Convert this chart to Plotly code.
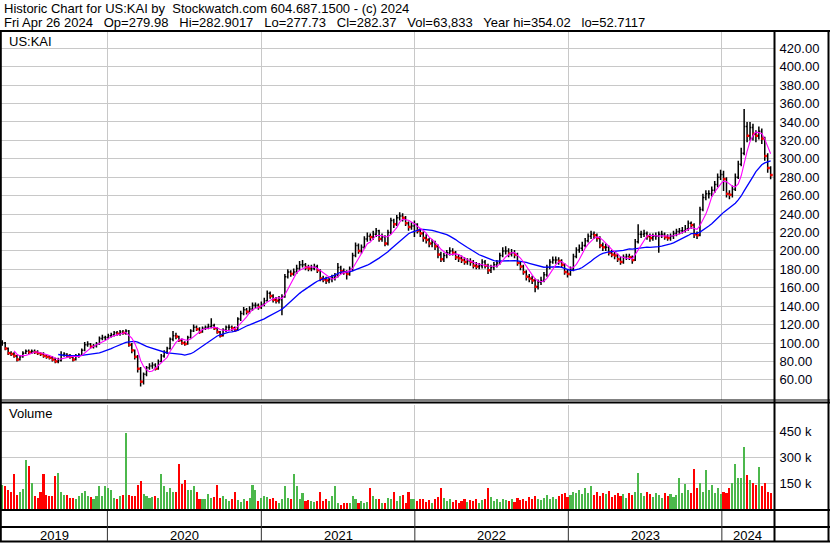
import pandas as pd
import plotly.graph_objects as go

# ---------------- data (weekly) ----------------
start_week = "2019-04-26"

week_close = [
    100, 94, 89, 88, 86, 82, 85, 89, 91, 90,
    91, 90, 89, 88, 86, 85, 84, 82, 80, 81,
    87, 88, 86, 85, 82, 86, 87, 92, 98, 99,
    96, 97, 99, 105, 106, 106, 108, 109, 111, 110,
    112, 111, 113, 98, 92, 85, 72, 58, 66, 73,
    75, 76, 72, 80, 86, 90, 94, 104, 108, 107,
    103, 100, 99, 106, 113, 117, 115, 112, 116, 117,
    118, 119, 116, 112, 108, 114, 117, 117, 116, 114,
    126, 132, 136, 134, 137, 141, 141, 139, 142, 146,
    154, 151, 147, 146, 147, 150, 172, 177, 175, 177,
    181, 185, 185, 182, 181, 181, 183, 179, 170, 169,
    168, 169, 171, 173, 182, 178, 177, 175, 180, 195,
    206, 200, 204, 213, 216, 215, 218, 222, 213, 215,
    208, 220, 233, 229, 236, 238, 236, 230, 226, 227,
    229, 222, 219, 214, 212, 208, 209, 205, 196, 191,
    195, 198, 200, 198, 193, 192, 190, 188, 189, 188,
    184, 183, 184, 188, 184, 179, 182, 185, 187, 195,
    200, 200, 197, 198, 196, 187, 183, 177, 172, 170,
    168, 161, 166, 168, 174, 182, 188, 190, 190, 189,
    185, 177, 175, 180, 194, 201, 203, 206, 211, 216,
    218, 217, 214, 206, 204, 204, 198, 196, 195, 191,
    188, 193, 194, 193, 190, 210, 218, 218, 219, 216,
    214, 216, 216, 218, 218, 215, 214, 216, 219, 221,
    222, 222, 224, 230, 228, 218, 217, 245, 258, 262,
    262, 266, 272, 280, 283, 278, 262, 261, 267, 280,
    294, 306, 335, 325, 334, 327, 325, 330, 322, 303,
    290, 282.37,
]

week_high = [
    103, 101, 95, 91, 90, 87, 87, 91, 93, 93,
    93, 93, 92, 90, 90, 88, 87, 86, 84, 84,
    91, 90, 89, 88, 86, 88, 89, 94, 101, 102,
    100, 99, 101, 107, 109, 108, 110, 111, 113, 113,
    114, 114, 115, 114, 100, 93, 87, 74, 68, 75,
    78, 79, 78, 82, 88, 92, 96, 106, 113, 111,
    108, 105, 102, 108, 115, 120, 119, 117, 118, 119,
    121, 127, 121, 117, 113, 116, 119, 120, 119, 118,
    128, 135, 139, 138, 140, 144, 144, 143, 145, 149,
    157, 156, 153, 150, 151, 153, 175, 180, 179, 181,
    185, 189, 190, 187, 185, 185, 186, 185, 180, 173,
    172, 172, 174, 176, 187, 184, 181, 179, 183, 198,
    209, 208, 207, 216, 220, 219, 222, 225, 223, 219,
    217, 223, 236, 235, 239, 242, 241, 238, 232, 231,
    233, 230, 225, 221, 218, 214, 213, 211, 207, 199,
    198, 201, 204, 203, 200, 196, 195, 193, 192, 192,
    190, 188, 187, 191, 190, 186, 185, 188, 190, 198,
    204, 205, 203, 202, 201, 198, 189, 185, 179, 175,
    173, 170, 169, 172, 177, 185, 191, 194, 194, 193,
    191, 187, 180, 183, 197, 204, 207, 210, 214, 219,
    222, 221, 219, 216, 209, 208, 206, 201, 199, 197,
    194, 196, 197, 197, 195, 213, 229, 222, 223, 221,
    219, 219, 220, 221, 222, 220, 218, 219, 222, 224,
    225, 226, 228, 233, 232, 230, 221, 248, 262, 266,
    266, 270, 276, 284, 288, 287, 280, 266, 271, 284,
    298, 312, 354.02, 340, 340, 338, 331, 335, 333, 324,
    306, 292,
]

week_low = [
    97, 92, 87, 86, 84, 80, 81, 84, 88, 88,
    88, 88, 87, 86, 84, 83, 82, 80, 78, 78,
    80, 85, 84, 83, 80, 81, 84, 86, 91, 96,
    94, 94, 95, 98, 103, 103, 104, 106, 107, 108,
    108, 109, 109, 96, 89, 82, 68, 52.71, 55, 64,
    71, 72, 70, 71, 79, 84, 88, 93, 102, 104,
    101, 98, 97, 98, 105, 112, 113, 110, 111, 114,
    115, 116, 114, 110, 106, 107, 112, 114, 113, 112,
    113, 124, 130, 131, 132, 135, 138, 136, 137, 140,
    145, 148, 144, 143, 143, 130, 149, 170, 172, 173,
    175, 179, 182, 179, 178, 178, 179, 176, 167, 166,
    164, 165, 166, 168, 171, 175, 174, 169, 173, 178,
    193, 197, 197, 202, 210, 211, 212, 215, 210, 210,
    205, 206, 218, 225, 227, 233, 232, 227, 222, 223,
    215, 219, 215, 210, 208, 204, 204, 201, 192, 188,
    188, 192, 195, 195, 190, 188, 187, 185, 185, 184,
    181, 180, 180, 181, 181, 175, 176, 179, 182, 185,
    193, 196, 193, 194, 192, 184, 179, 174, 168, 166,
    164, 155, 158, 163, 166, 172, 180, 186, 186, 185,
    182, 174, 171, 173, 178, 192, 198, 200, 204, 209,
    213, 213, 210, 203, 200, 200, 195, 193, 191, 188,
    185, 186, 190, 190, 186, 189, 208, 214, 215, 212,
    210, 211, 212, 198, 214, 212, 211, 211, 213, 216,
    218, 219, 220, 222, 224, 214, 213, 216, 243, 255,
    257, 259, 263, 269, 277, 265, 258, 256, 258, 265,
    278, 292, 304, 318, 320, 320, 318, 321, 316, 298,
    285, 277.73,
]

week_volume_k = [
    140, 130, 110, 100, 200, 80, 100, 115, 285, 250,
    150, 75, 65, 100, 200, 80, 75, 75, 190, 205,
    100, 80, 80, 65, 65, 55, 75, 90, 105, 75,
    70, 55, 75, 130, 75, 130, 120, 110, 65, 60,
    75, 80, 440, 80, 77, 77, 140, 160, 88, 77,
    65, 70, 75, 65, 204, 130, 100, 120, 100, 100,
    262, 146, 165, 110, 110, 130, 100, 55, 60, 55,
    88, 65, 67, 140, 65, 73, 58, 45, 55, 100,
    50, 40, 55, 45, 65, 140, 110, 45, 65, 73,
    70, 55, 65, 45, 35, 55, 130, 65, 55, 200,
    130, 55, 92, 45, 50, 45, 40, 45, 100, 45,
    55, 45, 73, 130, 35, 25, 35, 35, 35, 73,
    55, 35, 45, 35, 40, 120, 73, 55, 60, 35,
    35, 65, 55, 100, 45, 73, 80, 35, 100, 55, 55,
    45, 55, 60, 40, 50, 35, 60, 70, 120, 65,
    45, 55, 40, 50, 35, 45, 60, 40, 50, 45,
    55, 35, 50, 60, 120, 70, 45, 55, 40, 60,
    50, 45, 55, 40, 65, 50, 60, 45, 70, 55,
    75, 60, 50, 65, 80, 60, 70, 55, 75, 85,
    90, 70, 80, 100, 95, 110, 85, 120, 90, 135,
    80, 100, 75, 90, 85, 105, 70, 80, 95, 75,
    85, 65, 90, 80, 100, 210, 90, 75, 100, 85,
    70, 95, 80, 65, 90, 75, 85, 70, 80, 180,
    95, 145, 110, 90, 230, 120, 150, 100, 225, 110,
    137, 95, 120, 85, 100, 90, 120, 150, 260, 180,
    180, 355, 195, 170, 150, 140, 240, 130, 152, 100, 90,
]

price_ticks = list(range(60, 421, 20))
volume_ticks = [150000, 300000, 450000]
volume_tick_labels = ["150 k", "300 k", "450 k"]
years = [2019, 2020, 2021, 2022, 2023, 2024]

GAP = "\u00a0\u00a0 "
header_line1 = "Historic Chart for US:KAI by\u00a0 Stockwatch.com 604.687.1500 - (c) 2024"
header_line2 = GAP.join(["Fri Apr 26 2024", "Op=279.98", "Hi=282.9017", "Lo=277.73",
                         "Cl=282.37", "Vol=63,833", "Year hi=354.02", "lo=52.7117"])
symbol_label = "US:KAI"
volume_label = "Volume"

# ---------------- derived ----------------
dates = pd.date_range(start_week, periods=len(week_close), freq="7D")
week_open = [week_close[0]] + week_close[:-1]
close_s = pd.Series(week_close, index=dates)
ma_fast = close_s.rolling(5).mean()
ma_slow = close_s.rolling(20).mean()
volume = [v * 1000 for v in week_volume_k]
vol_colors = ["#4cb84c" if c >= o else "#ff0000" for o, c in zip(week_open, week_close)]
down_idx = [i for i in range(len(week_close)) if week_close[i] < week_open[i]]

# ---------------- geometry ----------------
W, H = 830, 543
ML, MR, MT, MB = 1, 56, 31, 34
PW = W - ML - MR
PH = H - MT - MB
PLOT_BOTTOM = H - MB


def px_x(p):
    return (p - ML) / PW


def px_y(p):
    return (PLOT_BOTTOM - p) / PH


x_start = pd.Timestamp("2019-04-23")
x_end = pd.Timestamp("2024-05-04")
year_starts = [pd.Timestamp(f"{y}-01-01") for y in years[1:]]

FONT = "Liberation Sans, Arial, sans-serif"
FS = 13
GRID = "#c8c8c8"

fig = go.Figure()

fig.add_trace(go.Ohlc(
    x=dates, open=week_open, high=week_high, low=week_low, close=week_close,
    increasing=dict(line=dict(color="black", width=1.5)),
    decreasing=dict(line=dict(color="black", width=1.5)),
    tickwidth=0.4, xaxis="x", yaxis="y", hoverinfo="skip",
))
fig.add_trace(go.Scatter(
    x=[dates[i] + pd.Timedelta(days=2) for i in down_idx],
    y=[week_close[i] for i in down_idx],
    mode="markers", marker=dict(symbol="square", size=2.5, color="#ff0000"),
    xaxis="x", yaxis="y", hoverinfo="skip",
))
fig.add_trace(go.Scatter(
    x=dates, y=ma_slow, mode="lines", line=dict(color="#0000ff", width=1.3),
    xaxis="x", yaxis="y", hoverinfo="skip",
))
fig.add_trace(go.Scatter(
    x=dates, y=ma_fast, mode="lines", line=dict(color="#ff00ff", width=1.1),
    xaxis="x", yaxis="y", hoverinfo="skip",
))
fig.add_trace(go.Bar(
    x=dates, y=volume, marker=dict(color=vol_colors, line=dict(width=0)),
    width=5 * 86400000, xaxis="x2", yaxis="y2", hoverinfo="skip",
))

axis_x = dict(
    type="date", range=[x_start, x_end], tickvals=year_starts,
    showticklabels=False, showgrid=True, gridcolor=GRID, gridwidth=1,
    zeroline=False, showline=False, ticks="",
)
fig.update_layout(
    width=W, height=H,
    margin=dict(l=ML, r=MR, t=MT, b=MB, pad=0),
    paper_bgcolor="white", plot_bgcolor="white",
    showlegend=False, hovermode=False,
    font=dict(family=FONT, size=FS, color="black"),
    bargap=0,
    xaxis=dict(axis_x, anchor="y", rangeslider=dict(visible=False)),
    xaxis2=dict(axis_x, anchor="y2", matches="x"),
    yaxis=dict(
        domain=[px_y(400), 1], range=[38.1, 438.8], side="right", anchor="x",
        tickvals=price_ticks, ticktext=[f"{v:.2f}" for v in price_ticks],
        showgrid=True, gridcolor=GRID, gridwidth=1, zeroline=False,
        ticks="outside", ticklen=2, tickcolor="white",
        tickfont=dict(family=FONT, size=FS, color="#000010"),
    ),
    yaxis2=dict(
        domain=[0, px_y(405)], range=[0, 600000], side="right", anchor="x2",
        tickvals=volume_ticks, ticktext=volume_tick_labels,
        showgrid=True, gridcolor=GRID, gridwidth=1, zeroline=False,
        ticks="outside", ticklen=2, tickcolor="white",
        tickfont=dict(family=FONT, size=FS, color="#000010"),
    ),
)

shapes = []


def hline(ypx, x0px, x1px, width=2, color="black"):
    shapes.append(dict(type="line", xref="paper", yref="paper",
                       x0=px_x(x0px), x1=px_x(x1px), y0=px_y(ypx), y1=px_y(ypx),
                       line=dict(color=color, width=width)))


def vline(xpx, y0px, y1px, width=2, color="black"):
    shapes.append(dict(type="line", xref="paper", yref="paper",
                       x0=px_x(xpx), x1=px_x(xpx), y0=px_y(y0px), y1=px_y(y1px),
                       line=dict(color=color, width=width)))


hline(31, 0, 830, 2)          # under header
hline(400, 0, 830, 1)         # price / volume separator
hline(402.5, 0, 830, 2)
hline(510, 0, 830, 2)         # volume bottom
hline(527, 0, 830, 2)         # date rows separator
hline(541.5, 0, 830, 2)       # bottom border
vline(0.8, 31, 542, 2)        # left border
vline(774.5, 31, 542, 2)      # plot right edge
vline(828.5, 31, 542, 2)      # right border

for ys in year_starts:
    shapes.append(dict(type="line", xref="x", yref="paper", x0=ys, x1=ys,
                       y0=px_y(511), y1=px_y(541),
                       line=dict(color="#303030", width=1)))


def label(text, xpx, ypx, anchor="left", xref="paper"):
    return dict(text=text, xref=xref, yref="paper",
                x=px_x(xpx) if xref == "paper" else xpx, y=px_y(ypx),
                xanchor=anchor, yanchor="middle", showarrow=False,
                font=dict(family=FONT, size=FS, color="black"))


annotations = [
    label(header_line1, 2, 8.5),
    label(header_line2, 2, 23),
    label(symbol_label, 7, 42),
    label(volume_label, 7, 413),
]
for y in years:
    s = max(pd.Timestamp(f"{y}-01-01"), x_start)
    e = min(pd.Timestamp(f"{y + 1}-01-01"), x_end)
    mid = s + (e - s) / 2
    annotations.append(label(str(y), mid, 535, anchor="center", xref="x"))

fig.update_layout(shapes=shapes, annotations=annotations)
fig.write_html(
    "out.html",
    config={"displayModeBar": False},
    post_script="document.body.style.margin='0';document.body.style.overflow='hidden';",
)
